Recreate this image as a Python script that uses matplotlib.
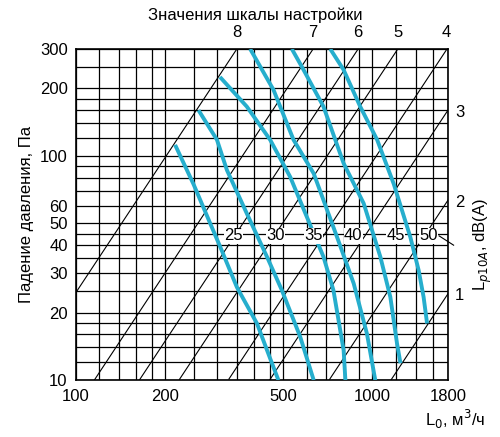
import numpy as np
import matplotlib
matplotlib.use("Agg")
import matplotlib.pyplot as plt
plt.rcParams['font.family'] = ['Liberation Sans','DejaVu Sans']

# grid
x_grid = [100,120,140,160,180,200,250,300,350,400,450,500,600,700,800,900,1000,1200,1400,1600,1800]
y_grid = [10,12,14,16,18,20,25,30,35,40,45,50,60,70,80,90,100,120,140,160,180,200,250,300]
x_ticks = [100,200,500,1000,1800]
y_ticks = [10,20,30,40,50,60,100,200,300]

# setting lines: pressure at L=1000 m3/h (p ~ L^2)
settings = ['8','7','6','5','4','3','2','1']
p_at_1000 = [2463,753,374,202,94,49.4,19.6,7.5]

# noise curves (L, p)
noise_levels = ['25','30','35','40','45','50']
noise_L = [
    [216,249,310,349,408,452,482],
    [259,299,323,377,441,495,571,634],
    [306,377,452,528,601,684,739,800,811],
    [387,464,542,634,760,865,959,1023],
    [535,586,684,800,935,1064,1150,1211,1244],
    [721,800,910,1038,1181,1343,1433,1489,1530],
]
noise_p = [
    [112,75,38,26,17.9,12.5,10],
    [160,118,86.5,55.4,35.5,25.2,15.6,10],
    [225,166,118,80.7,53.5,35.5,25.2,13.6,10],
    [300,197,118,83.5,43.5,27,16.1,10],
    [300,242,166,92.7,61.4,35.5,23.5,14.6,11.9],
    [300,242,166,118,75,43.5,30.9,23.5,17.9],
]
noise_label_L = [340,470,632,862,1197,1545]
noise_label_p = 44

fig = plt.figure(figsize=(5,4.37), dpi=100)
ax = fig.add_axes([0.152,0.130,0.744,0.758])
ax.set_xscale('log'); ax.set_yscale('log')
xmin,xmax,ymin,ymax = 100,1800,10,300
ax.set_xlim(xmin,xmax); ax.set_ylim(ymin,ymax)
for xv in x_grid:
    ax.axvline(xv,color='black',lw=0.9,zorder=1)
for yv in y_grid:
    ax.axhline(yv,color='black',lw=0.9,zorder=1)

L = np.logspace(2,np.log10(1800),400)
for s,k in zip(settings,p_at_1000):
    p = k*(L/1000)**2
    m = (p>=ymin)&(p<=ymax)
    ax.plot(L[m],p[m],color='black',lw=0.8,zorder=2)
    Ltop = 1000*np.sqrt(ymax/k)
    if Ltop <= xmax*1.01:
        ax.text(min(Ltop,1780),330,s,ha='center',va='bottom',fontsize=12)
    else:
        ax.text(1900,k*1.8**2*0.98,s,ha='left',va='center',fontsize=12)

for Ls,ps,lab,lx in zip(noise_L,noise_p,noise_levels,noise_label_L):
    ax.plot(Ls,ps,color='#26aecd',lw=2.8,zorder=3,solid_capstyle='butt',solid_joinstyle='round')
    ax.text(lx,noise_label_p,lab,ha='center',va='center',fontsize=12,zorder=4,
            bbox=dict(facecolor='white',edgecolor='none',pad=0.3))

ax.plot([1680,1880],[44,40],color='black',lw=0.8,clip_on=False)

ax.set_xticks(x_ticks); ax.set_xticklabels([str(v) for v in x_ticks],fontsize=12)
ax.set_yticks(y_ticks); ax.set_yticklabels([str(v) for v in y_ticks],fontsize=12)
ax.minorticks_off()
ax.tick_params(length=0,pad=6)
for sp in ax.spines.values():
    sp.set_linewidth(1.2)
ax.set_ylabel('Падение давления, Па',fontsize=12,labelpad=4)
fig.text(0.51,0.965,'Значения шкалы настройки',ha='center',va='center',fontsize=12)
fig.text(0.97,0.04,'L$_0$, м$^3$/ч',ha='right',va='center',fontsize=12)
fig.text(0.965,0.44,'L$_{p10A}$, dB(A)',ha='center',va='center',rotation=90,fontsize=12)
fig.savefig('out.png',dpi=100)
